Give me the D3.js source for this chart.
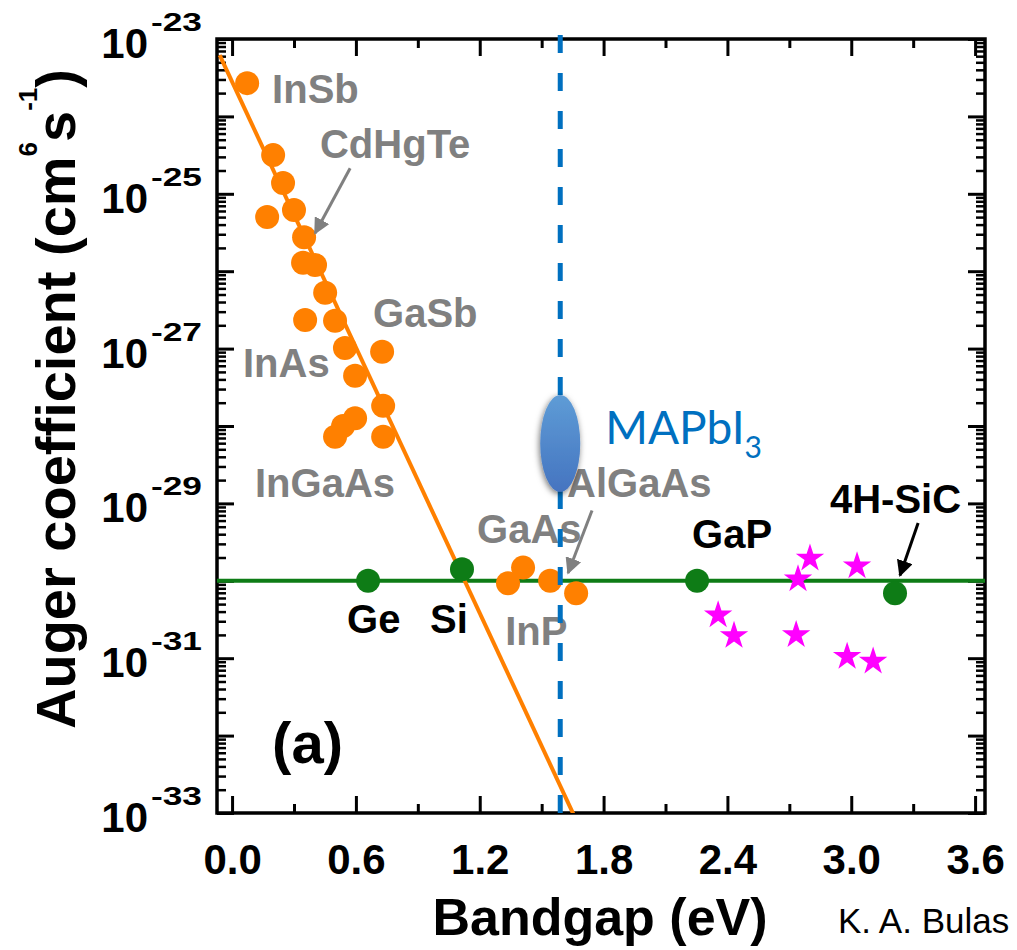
<!DOCTYPE html>
<html>
<head>
<meta charset="utf-8">
<script src="https://cdn.jsdelivr.net/npm/d3@7"></script>
<style>
  body { margin: 0; background: #fff; }
  svg { display: block; }
</style>
</head>
<body>
<svg id="chart" width="1017" height="950"></svg>
<script>
// ---- Auger coefficient vs bandgap ----

// III-V / II-VI narrow-gap compounds (orange circles)
const orangeEg = [0.073, 0.199, 0.247, 0.170, 0.300, 0.349, 0.344, 0.402, 0.451, 0.354, 0.499, 0.547,
                  0.727, 0.596, 0.732, 0.596, 0.538, 0.499, 0.732, 1.337, 1.410, 1.541, 1.667];
const orangeC  = [2.69e-24, 3.16e-25, 1.38e-25, 5.0e-26, 6.17e-26, 2.75e-26, 1.29e-26, 1.20e-26, 5.25e-27, 2.34e-27, 2.29e-27, 1.02e-27,
                  9.1e-28, 4.47e-28, 1.82e-28, 1.26e-28, 1.0e-28, 7.24e-29, 7.24e-29, 9.3e-31, 1.48e-30, 1.0e-30, 6.9e-31];

// Indirect-gap semiconductors (green circles)
const greenNames = ["Ge", "Si", "GaP", "4H-SiC"];
const greenEg = [0.659, 1.114, 2.253, 3.212];
const greenC  = [1.0e-30, 1.41e-30, 1.0e-30, 6.9e-31];

// III-nitrides (magenta stars)
const starEg = [2.800, 2.742, 3.028, 2.355, 2.432, 2.733, 2.980, 3.106];
const starC  = [1.95e-30, 1.05e-30, 1.55e-30, 3.6e-31, 1.95e-31, 2.0e-31, 1.05e-31, 9.1e-32];

// Empirical trend for direct-gap materials (end points) and indirect-gap level
const fitEg = [-0.06, 1.67];
const fitC  = [6.2e-24, 7.8e-34];
const flatC = 1e-30;

// MAPbI3 bandgap and Auger coefficient range
const mapiEg = 1.59;
const mapiC  = [1.41e-29, 2.51e-28];

// Axis ticks
const xTicks = [0, 0.6, 1.2, 1.8, 2.4, 3.0, 3.6];
const xMinor = [0.3, 0.9, 1.5, 2.1, 2.7, 3.3];
const yLabelExp = [-23, -25, -27, -29, -31, -33];

// Material labels (anchor in eV / cm^6 s^-1)
const grayLabels = ["InSb", "CdHgTe", "GaSb", "InAs", "InGaAs", "GaAs", "AlGaAs", "InP"];
const grayLabelEg = [0.194, 0.426, 0.683, 0.053, 0.111, 1.187, 1.623, 1.323];
const grayLabelC  = [1.48e-24, 2.88e-25, 1.9e-27, 4.27e-28, 1.2e-29, 3.09e-30, 1.2e-29, 1.48e-31];
const blackLabels = ["Ge", "Si", "GaP", "4H-SiC"];
const blackLabelEg = [0.557, 0.959, 2.229, 2.897];
const blackLabelC  = [2.14e-31, 2.14e-31, 2.63e-30, 7.6e-30];

// Pointer arrows: [fromEg, fromC, toEg, toC]
const grayArrows  = [[0.572, 2.14e-25, 0.402, 3.09e-26], [1.744, 8.1e-30, 1.628, 1.26e-30]];
const blackArrows = [[3.324, 5.6e-30, 3.236, 1.17e-30]];

// ---- layout ----
const plot = { left: 217, right: 985, top: 39, bottom: 813 };
const svg = d3.select("#chart");
const x = d3.scaleLinear().domain([-0.073, 3.648]).range([plot.left, plot.right]);
const y = d3.scaleLog().domain([1e-33, 1e-23]).range([plot.bottom, plot.top]);

const BOLD = "'Liberation Sans', Arial, Helvetica, sans-serif";
const ORANGE = "#ff8000", GREEN = "#0e7c16", MAGENTA = "#ff00ff", GRAY = "#808080", BLUE = "#0070c0";

const defs = svg.append("defs");
defs.append("clipPath").attr("id", "plotClip").append("rect")
  .attr("x", plot.left).attr("y", plot.top)
  .attr("width", plot.right - plot.left).attr("height", plot.bottom - plot.top);
const grad = defs.append("linearGradient").attr("id", "mapiGrad")
  .attr("x1", 0).attr("y1", 0).attr("x2", 0).attr("y2", 1);
grad.append("stop").attr("offset", "0%").attr("stop-color", "#5e9cd6");
grad.append("stop").attr("offset", "100%").attr("stop-color", "#4574c0");
const shadow = defs.append("filter").attr("id", "mapiShadow")
  .attr("x", "-60%").attr("y", "-30%").attr("width", "220%").attr("height", "160%");
shadow.append("feDropShadow").attr("dx", -1).attr("dy", 2).attr("stdDeviation", 3)
  .attr("flood-color", "#000").attr("flood-opacity", 0.55);
function marker(id, color) {
  defs.append("marker").attr("id", id).attr("viewBox", "0 0 10 10")
    .attr("refX", 9).attr("refY", 5).attr("markerWidth", 5.5).attr("markerHeight", 5.5)
    .attr("markerUnits", "strokeWidth").attr("orient", "auto")
    .append("path").attr("d", "M0,0 L10,5 L0,10 Z").attr("fill", color);
}
marker("headGray", GRAY);
marker("headBlack", "#000");

// ---- axes (ticks pointing inward on all four sides) ----
function styleTicks(g, w) {
  g.select(".domain").remove();
  g.selectAll(".tick line").attr("stroke", "#000").attr("stroke-width", w);
}
const yMajor = d3.range(-33, -22).map(e => Math.pow(10, e));
const yMinor = [];
d3.range(-33, -23).forEach(e => { for (let k = 2; k <= 9; k++) yMinor.push(k * Math.pow(10, e)); });

svg.append("g").attr("transform", `translate(0,${plot.bottom})`)
  .call(d3.axisBottom(x).tickValues(xTicks).tickSize(-17).tickPadding(31).tickFormat(d3.format(".1f")))
  .call(g => styleTicks(g, 3))
  .call(g => g.selectAll("text").attr("font-family", BOLD).attr("font-weight", "bold")
    .attr("font-size", 42).attr("fill", "#000"));
svg.append("g").attr("transform", `translate(0,${plot.bottom})`)
  .call(d3.axisBottom(x).tickValues(xMinor).tickSize(-9).tickFormat(""))
  .call(g => styleTicks(g, 3));
svg.append("g").attr("transform", `translate(0,${plot.top})`)
  .call(d3.axisTop(x).tickValues(xTicks).tickSize(-17).tickFormat(""))
  .call(g => styleTicks(g, 3));
svg.append("g").attr("transform", `translate(0,${plot.top})`)
  .call(d3.axisTop(x).tickValues(xMinor).tickSize(-9).tickFormat(""))
  .call(g => styleTicks(g, 3));
[[d3.axisLeft, plot.left], [d3.axisRight, plot.right]].forEach(([ax, pos]) => {
  svg.append("g").attr("transform", `translate(${pos},0)`)
    .call(ax(y).tickValues(yMajor).tickSize(-17).tickFormat(""))
    .call(g => styleTicks(g, 3));
  svg.append("g").attr("transform", `translate(${pos},0)`)
    .call(ax(y).tickValues(yMinor).tickSize(-9).tickFormat(""))
    .call(g => styleTicks(g, 2.5));
});

// y tick labels as 10^n
const yLab = svg.append("g").attr("font-family", BOLD).attr("font-weight", "bold").attr("fill", "#000");
yLabelExp.forEach(e => {
  const ty = y(Math.pow(10, e));
  yLab.append("text").attr("x", plot.left - 69).attr("y", ty + 19)
    .attr("text-anchor", "end").attr("font-size", 42).text("10");
  yLab.append("text").attr("x", plot.left - 66).attr("y", ty - 8)
    .attr("font-size", 25).attr("textLength", 51).attr("lengthAdjust", "spacingAndGlyphs")
    .text("-" + Math.abs(e));
});

// frame
svg.append("rect").attr("x", plot.left).attr("y", plot.top)
  .attr("width", plot.right - plot.left).attr("height", plot.bottom - plot.top)
  .attr("fill", "none").attr("stroke", "#000").attr("stroke-width", 3.5);

// axis titles
const yTitle = svg.append("text").attr("transform", "translate(75,399) rotate(-90)")
  .attr("text-anchor", "middle").attr("font-family", BOLD).attr("font-weight", "bold")
  .attr("font-size", 56).attr("fill", "#000");
yTitle.append("tspan").text("Auger coefficient (cm");
yTitle.append("tspan").attr("font-size", 26).attr("dy", -38).text("6");
yTitle.append("tspan").attr("dy", 38).text("s");
yTitle.append("tspan").attr("font-size", 26).attr("dy", -38).text("-1");
yTitle.append("tspan").attr("dy", 38).text(")");

svg.append("text").attr("x", 600).attr("y", 935).attr("text-anchor", "middle")
  .attr("font-family", BOLD).attr("font-weight", "bold").attr("font-size", 52)
  .attr("fill", "#000").text("Bandgap (eV)");

svg.append("text").attr("x", 838).attr("y", 933)
  .attr("font-family", BOLD).attr("font-size", 35)
  .attr("fill", "#000").text("K. A. Bulas");

// ---- data marks ----
const plotArea = svg.append("g").attr("clip-path", "url(#plotClip)");

plotArea.append("line")
  .attr("x1", plot.left).attr("x2", plot.right)
  .attr("y1", y(flatC)).attr("y2", y(flatC))
  .attr("stroke", GREEN).attr("stroke-width", 4);

plotArea.append("path")
  .datum(d3.zip(fitEg, fitC))
  .attr("d", d3.line().x(d => x(d[0])).y(d => y(d[1])))
  .attr("fill", "none").attr("stroke", ORANGE).attr("stroke-width", 4);

plotArea.append("g").selectAll("circle").data(d3.zip(orangeEg, orangeC)).join("circle")
  .attr("cx", d => x(d[0])).attr("cy", d => y(d[1])).attr("r", 12).attr("fill", ORANGE);

plotArea.append("g").selectAll("circle").data(d3.zip(greenEg, greenC)).join("circle")
  .attr("cx", d => x(d[0])).attr("cy", d => y(d[1])).attr("r", 12).attr("fill", GREEN);

plotArea.append("g").selectAll("path").data(d3.zip(starEg, starC)).join("path")
  .attr("transform", d => `translate(${x(d[0])},${y(d[1])})`)
  .attr("d", d3.symbol(d3.symbolStar, 250)).attr("fill", MAGENTA);

// ---- labels and pointers ----
const lab = svg.append("g").attr("font-family", BOLD).attr("font-weight", "bold").attr("font-size", 40);
lab.selectAll("text.gray").data(d3.zip(grayLabels, grayLabelEg, grayLabelC)).join("text")
  .attr("class", "gray").attr("x", d => x(d[1])).attr("y", d => y(d[2]))
  .attr("fill", GRAY).text(d => d[0]);
lab.selectAll("text.black").data(d3.zip(blackLabels, blackLabelEg, blackLabelC)).join("text")
  .attr("class", "black").attr("x", d => x(d[1])).attr("y", d => y(d[2]))
  .attr("fill", "#000").text(d => d[0]);
lab.append("text").attr("x", x(0.194)).attr("y", y(4.47e-33))
  .attr("font-size", 58).attr("fill", "#000").text("(a)");

function arrows(list, color, head) {
  svg.append("g").selectAll("line").data(list).join("line")
    .attr("x1", d => x(d[0])).attr("y1", d => y(d[1]))
    .attr("x2", d => x(d[2])).attr("y2", d => y(d[3]))
    .attr("stroke", color).attr("stroke-width", 3).attr("marker-end", `url(#${head})`);
}
arrows(grayArrows, GRAY, "headGray");
arrows(blackArrows, "#000", "headBlack");

// ---- MAPbI3 marker ----
svg.append("line")
  .attr("x1", x(mapiEg)).attr("x2", x(mapiEg))
  .attr("y1", plot.top - 4).attr("y2", plot.bottom + 2)
  .attr("stroke", BLUE).attr("stroke-width", 5).attr("stroke-dasharray", "18,20");

const mapiTop = y(mapiC[1]), mapiBot = y(mapiC[0]);
svg.append("ellipse")
  .attr("cx", x(mapiEg)).attr("cy", (mapiTop + mapiBot) / 2)
  .attr("rx", 20).attr("ry", (mapiBot - mapiTop) / 2)
  .attr("fill", "url(#mapiGrad)").attr("filter", "url(#mapiShadow)");

const mapiLabel = svg.append("text").attr("x", x(mapiEg) + 45).attr("y", y(Math.sqrt(mapiC[0] * mapiC[1])) + 1)
  .attr("font-family", "Lato, 'Open Sans', sans-serif").attr("font-size", 46).attr("fill", BLUE);
mapiLabel.append("tspan").text("MAPbI");
mapiLabel.append("tspan").attr("font-size", 30).attr("dy", 14).text("3");
</script>
</body>
</html>
